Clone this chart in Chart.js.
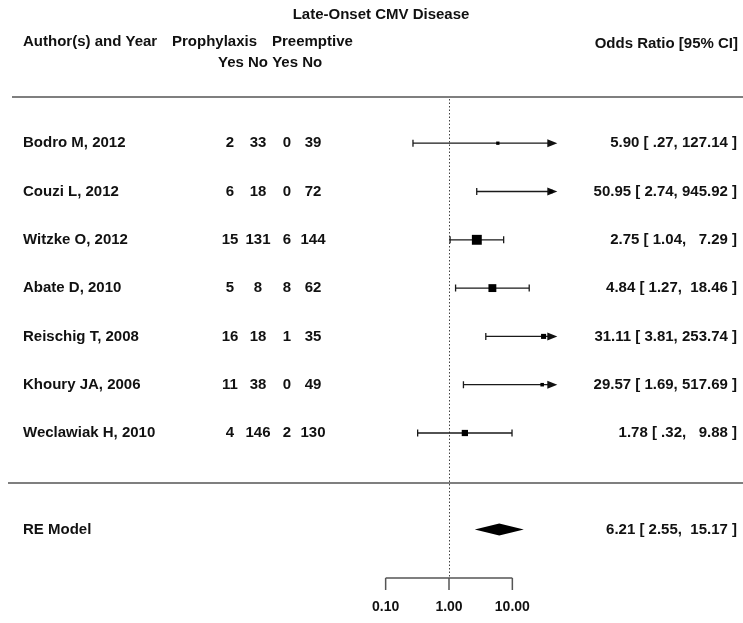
<!DOCTYPE html>
<html>
<head>
<meta charset="utf-8">
<script src="https://cdn.jsdelivr.net/npm/chart.js@4.4.1/dist/chart.umd.min.js"></script>
<style>
  html, body { margin: 0; padding: 0; background: #ffffff; }
  #forest { display: block; }
</style>
</head>
<body>
<canvas id="forest" width="743" height="623"></canvas>
<script>
// study data
var studies = ['Bodro M, 2012', 'Couzi L, 2012', 'Witzke O, 2012', 'Abate D, 2010',
               'Reischig T, 2008', 'Khoury JA, 2006', 'Weclawiak H, 2010'];
var prophYes = [2, 6, 15, 5, 16, 11, 4];
var prophNo = [33, 18, 131, 8, 18, 38, 146];
var preemYes = [0, 0, 6, 8, 1, 0, 2];
var preemNo = [39, 72, 144, 62, 35, 49, 130];
var oddsRatio = [5.90, 50.95, 2.75, 4.84, 31.11, 29.57, 1.78];
var ciLower = [0.27, 2.74, 1.04, 1.27, 3.81, 1.69, 0.32];
var ciUpper = [127.14, 945.92, 7.29, 18.46, 253.74, 517.69, 9.88];
var weights = [7.0, 7.5, 27.6, 21.3, 12.5, 7.8, 16.2];
var reModel = [6.21, 2.55, 15.17];                      // est, lower, upper
var tickValues = [0.1, 1, 10];
var tickLabels = ['0.10', '1.00', '10.00'];

var FONT = 'bold 15px "Liberation Sans", Arial, sans-serif';
var LOG_HI = 1.71; // clip limit on log10 scale, arrows beyond
var k = studies.length;

function lg(v) { return Math.log10(v); }
function rowOf(i) { return k - i; }

var wMin = Math.min.apply(null, weights), wMax = Math.max.apply(null, weights);
var boxPts = oddsRatio.map(function (v, i) {
  return { x: Math.min(lg(v), LOG_HI - 0.1), y: rowOf(i) };
});
var boxRadius = weights.map(function (w) {
  var side = 6.6 * (0.5 + (w - wMin) / (wMax - wMin));
  return side / Math.SQRT2;
});

function fmt(v) { return v.toFixed(2).replace(/^0\./, '.'); }
function pad(s, n) { while (s.length < n) s = ' ' + s; return s; }
function ciText(e, lo, hi) { return fmt(e) + ' [ ' + fmt(lo) + ', ' + pad(fmt(hi), 6) + ' ]'; }

var forestPlugin = {
  id: 'forest',
  beforeDatasetsDraw: function (chart) {
    var ctx = chart.ctx, xs = chart.scales.x, ys = chart.scales.y;
    ctx.save();
    // reference line at OR = 1
    var x0 = Math.round(xs.getPixelForValue(0)) + 0.5;
    ctx.strokeStyle = '#444';
    ctx.lineWidth = 1;
    ctx.setLineDash([1.5, 2]);
    ctx.beginPath();
    ctx.moveTo(x0, 99);
    ctx.lineTo(x0, ys.getPixelForValue(-2));
    ctx.stroke();
    ctx.setLineDash([]);

    // separators
    ctx.strokeStyle = '#555';
    ctx.lineWidth = 1.5;
    ctx.beginPath();
    ctx.moveTo(12, 97); ctx.lineTo(743, 97);
    ctx.moveTo(8, 483); ctx.lineTo(743, 483);
    ctx.stroke();

    // confidence intervals
    ctx.strokeStyle = '#1a1a1a';
    ctx.fillStyle = '#111';
    ctx.lineWidth = 1.3;
    for (var i = 0; i < k; i++) {
      var y = ys.getPixelForValue(rowOf(i));
      var lo = lg(ciLower[i]), hi = lg(ciUpper[i]);
      var clipped = hi > LOG_HI;
      var x1 = xs.getPixelForValue(lo);
      var x2 = xs.getPixelForValue(clipped ? LOG_HI : hi);
      ctx.beginPath();
      ctx.moveTo(x1, y); ctx.lineTo(clipped ? x2 - 6 : x2, y);
      ctx.moveTo(x1, y - 3.5); ctx.lineTo(x1, y + 3.5);
      if (!clipped) { ctx.moveTo(x2, y - 3.5); ctx.lineTo(x2, y + 3.5); }
      ctx.stroke();
      if (clipped) {
        ctx.beginPath();
        ctx.moveTo(x2, y);
        ctx.lineTo(x2 - 10, y - 4);
        ctx.lineTo(x2 - 10, y + 4);
        ctx.closePath();
        ctx.fill();
      }
    }

    // summary diamond
    var yr = ys.getPixelForValue(-1);
    ctx.fillStyle = '#000';
    ctx.beginPath();
    ctx.moveTo(xs.getPixelForValue(lg(reModel[1])), yr);
    ctx.lineTo(xs.getPixelForValue(lg(reModel[0])), yr - 6);
    ctx.lineTo(xs.getPixelForValue(lg(reModel[2])), yr);
    ctx.lineTo(xs.getPixelForValue(lg(reModel[0])), yr + 6);
    ctx.closePath();
    ctx.fill();

    // x axis
    var ya = ys.getPixelForValue(-2);
    ctx.strokeStyle = '#555';
    ctx.lineWidth = 1.5;
    ctx.beginPath();
    ctx.moveTo(xs.getPixelForValue(lg(tickValues[0])), ya);
    ctx.lineTo(xs.getPixelForValue(lg(tickValues[tickValues.length - 1])), ya);
    tickValues.forEach(function (t) {
      var xt = xs.getPixelForValue(lg(t));
      ctx.moveTo(xt, ya); ctx.lineTo(xt, ya + 12);
    });
    ctx.stroke();
    ctx.restore();
  },
  afterDatasetsDraw: function (chart) {
    var ctx = chart.ctx, xs = chart.scales.x, ys = chart.scales.y;
    ctx.save();
    ctx.fillStyle = '#111';
    ctx.font = FONT;
    ctx.textBaseline = 'middle';

    // headers
    ctx.textAlign = 'center';
    ctx.fillText('Late-Onset CMV Disease', 381, 15);
    ctx.textAlign = 'left';
    ctx.fillText('Author(s) and Year', 23, 42);
    ctx.fillText('Prophylaxis', 172, 42);
    ctx.fillText('Preemptive', 272, 42);
    ctx.fillText('Yes No Yes No', 218, 63);
    ctx.textAlign = 'right';
    ctx.fillText('Odds Ratio [95% CI]', 738, 44);

    // rows
    for (var i = 0; i < k; i++) {
      var y = ys.getPixelForValue(rowOf(i));
      ctx.textAlign = 'left';
      ctx.fillText(studies[i], 23, y);
      ctx.textAlign = 'center';
      ctx.fillText(String(prophYes[i]), 230, y);
      ctx.fillText(String(prophNo[i]), 258, y);
      ctx.fillText(String(preemYes[i]), 287, y);
      ctx.fillText(String(preemNo[i]), 313, y);
      ctx.textAlign = 'right';
      ctx.fillText(ciText(oddsRatio[i], ciLower[i], ciUpper[i]), 737, y);
    }
    var yr = ys.getPixelForValue(-1);
    ctx.textAlign = 'left';
    ctx.fillText('RE Model', 23, yr);
    ctx.textAlign = 'right';
    ctx.fillText(ciText(reModel[0], reModel[1], reModel[2]), 737, yr);

    // tick labels
    ctx.font = 'bold 14px "Liberation Sans", Arial, sans-serif';
    ctx.textAlign = 'center';
    var ya = ys.getPixelForValue(-2);
    tickValues.forEach(function (t, j) {
      ctx.fillText(tickLabels[j], xs.getPixelForValue(lg(t)), ya + 29);
    });
    ctx.restore();
  }
};

var config = {
  type: 'scatter',
  data: {
    datasets: [{
      data: boxPts,
      pointStyle: 'rect',
      pointRadius: boxRadius,
      backgroundColor: '#000',
      borderWidth: 0
    }]
  },
  options: {
    responsive: false,
    animation: false,
    events: [],
    layout: { padding: 0, autoPadding: false },
    plugins: { legend: { display: false }, tooltip: { enabled: false } },
    scales: {
      x: { type: 'linear', display: false, min: -449 / 63.35, max: (743 - 449) / 63.35 },
      y: { type: 'linear', display: false, min: 1 - 190 / 48.3, max: 1 + 433 / 48.3 }
    }
  },
  plugins: [forestPlugin]
};

var forestChart = new Chart(document.getElementById('forest'), config);
</script>
</body>
</html>
